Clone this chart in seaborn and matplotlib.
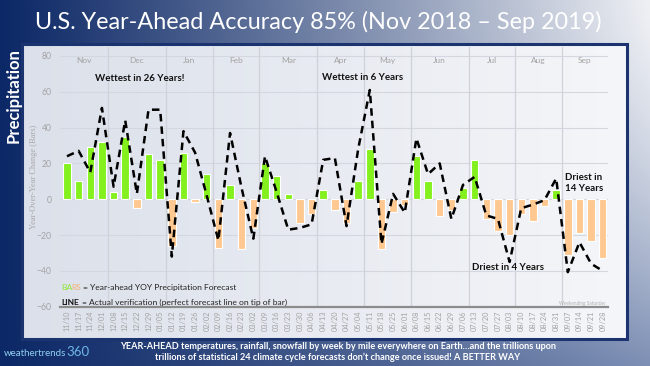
import numpy as np
import pandas as pd
import matplotlib.pyplot as plt
import seaborn as sns
from matplotlib.patches import Rectangle
from matplotlib.colors import to_rgb

# -------------------------------------------------
# Data
# -------------------------------------------------

weeks = ["11/10", "11/17", "11/24", "12/01", "12/08", "12/15", "12/22", "12/29",
         "01/05", "01/12", "01/19", "01/26", "02/02", "02/09", "02/16", "02/23",
         "03/02", "03/09", "03/16", "03/23", "03/30", "04/06", "04/13", "04/20",
         "04/27", "05/04", "05/11", "05/18", "05/25", "06/01", "06/08", "06/15",
         "06/22", "06/29", "07/06", "07/13", "07/20", "07/27", "08/03", "08/10",
         "08/17", "08/24", "08/31", "09/07", "09/14", "09/21", "09/28"]

# year-ahead forecast (bars)
forecast = [20, 10, 29, 32, 4, 35, -5, 25, 22, -26, 26, -1.5, 14, -27, 8, -28,
            -16, 20, 13, 3, -13, -8, 5, -6, -13, 10, 28, -28, -7, -3, 24, 10,
            -9.5, -6, 6, 22, -11, -18, -20, -8, -12, -4, 5, -31, -19, -23.5, -33]

# actual verification (dashed line)
actual = [24, 27, 15, 51, 7, 44, 3, 50, 50, -32, 38, 26, 2, -23, 37, 6,
          -22, 24, 4, -17, -16, -14, 22, 23, -15, 28, 61, -25, 3, -7.5, 34, 14,
          20, -11, 8, 12.5, -9, -11, -35, -5, -3, -0.5, 11.6, -40.7, -24, -36, -40]

months = ["Nov", "Dec", "Jan", "Feb", "Mar", "Apr", "May", "Jun", "Jul", "Aug", "Sep"]
# month grid line drawn right after these weeks
month_breaks = ["12/01", "01/05", "02/02", "03/02", "04/06", "05/04", "06/01",
                "07/06", "08/03", "08/31"]

df = pd.DataFrame({"week": weeks, "forecast": forecast, "actual": actual})
df["sign"] = np.where(df["forecast"] < 0, "neg", "pos")

# -------------------------------------------------
# Figure + backgrounds
# -------------------------------------------------

sns.set_style("white")
plt.rcParams["font.family"] = ["Lato", "DejaVu Sans"]

W, H = 650, 366
fig = plt.figure(figsize=(6.5, 3.66), dpi=100)

# outer gradient frame
xs = np.linspace(0, 1, W)[None, :, None]
ys = np.linspace(0, 1, H)[:, None, None]
left_c = np.array(to_rgb("#0c2866"))
right_top = np.array(to_rgb("#eef0f4"))
right_bot = np.array(to_rgb("#7d8fb4"))
right_c = right_top + (right_bot - right_top) * ys ** 1.5
bg = left_c + (right_c - left_c) * xs ** 1.1
ax_bg = fig.add_axes([0, 0, 1, 1], zorder=-10)
ax_bg.imshow(np.clip(bg, 0, 1), aspect="auto", extent=(0, 1, 0, 1))
ax_bg.axis("off")

# chart panel
px0, px1, py0, py1 = 22, 627, 44, 339
ax_panel = fig.add_axes([px0 / W, 1 - py1 / H, (px1 - px0) / W, (py1 - py0) / H], zorder=-5)
pl = np.array(to_rgb("#dbe0ea"))
pr = np.array(to_rgb("#f5f6f9"))
panel = pl + (pr - pl) * np.linspace(0, 1, 200)[None, :, None]
ax_panel.imshow(panel, aspect="auto", extent=(0, 1, 0, 1))
ax_panel.axis("off")
ax_panel.add_patch(Rectangle((0, 0), 1, 1, transform=ax_panel.transAxes, fill=False,
                             edgecolor="#1b3470", linewidth=2.2, clip_on=False))

# -------------------------------------------------
# Main chart
# -------------------------------------------------

ax = fig.add_axes([60 / W, 1 - 306.7 / H, 548 / W, 259.7 / H])
ax.set_facecolor("none")

sns.barplot(data=df, x="week", y="forecast", hue="sign",
            palette={"pos": "#84f01e", "neg": "#ffc891"}, dodge=False,
            width=0.64, saturation=1, edgecolor="white", linewidth=0.8,
            legend=False, ax=ax, zorder=3)

sns.lineplot(x=np.arange(len(weeks)), y=df["actual"], ax=ax, color="black",
             linewidth=1.8, linestyle=(0, (3, 2)), zorder=4)

n = len(weeks)
x_left, x_right = -0.6, n - 0.55
ax.set_xlim(x_left, x_right)
ax.set_ylim(-60, 85)
ax.set_yticks(range(-60, 81, 20))
ax.yaxis.grid(True, color="#d3d7df", linewidth=0.8)
ax.set_axisbelow(True)

# month separators + labels
bounds = [x_left] + [weeks.index(w) + 0.5 for w in month_breaks] + [x_right]
for b in bounds[1:-1]:
    ax.axvline(b, color="#cfd2d9", linewidth=0.9, zorder=1)
for i, m in enumerate(months):
    ax.text((bounds[i] + bounds[i + 1]) / 2, 77.5, m, ha="center", va="center",
            fontsize=6, color="#a3a3a3")

ax.set_xticks(range(n))
ax.set_xticklabels(weeks, rotation=90, fontsize=5.3, color="#a3a3a3")
ax.tick_params(axis="both", length=0)
ax.tick_params(axis="x", pad=3)
ax.tick_params(axis="y", pad=6, labelsize=6.2, labelcolor="#a3a3a3")
ax.set_xlabel("")
ax.set_ylabel("Year-Over-Year Change (Bars)", fontsize=6, color="#a8a8a8",
              family="Liberation Serif")
ax.yaxis.set_label_coords(-0.04, 0.5)

sns.despine(ax=ax, left=True, top=True, right=True)
ax.spines["bottom"].set_color("#8c8c8c")
ax.spines["bottom"].set_linewidth(1.6)

# annotations
ax.text(6.2, 67.5, "Wettest in 26 Years!", ha="center", va="center",
        fontsize=7, weight="bold", color="#111111")
ax.text(25.4, 68, "Wettest in 6 Years", ha="center", va="center",
        fontsize=7, weight="bold", color="#111111")
ax.text(37.9, -38, "Driest in 4 Years", ha="center", va="center",
        fontsize=7, weight="bold", color="#111111")
ax.text(42.8, 9, "Driest in\n14 Years", ha="left", va="center",
        fontsize=7, weight="bold", color="#111111", linespacing=1.25)
ax.text(46.2, -58.3, "Weekending Saturday", ha="right", va="center",
        fontsize=3.4, color="#b0b0b0")

# legend text
leg_fs = 6.1
t1 = ax.text(-0.45, -51.5, "BA", fontsize=leg_fs, color="#8fe63c", va="bottom")
t2 = ax.annotate("RS", xy=(1, 0), xycoords=t1, xytext=(-1.6, 0),
                 textcoords="offset points", va="bottom", fontsize=leg_fs,
                 color="#f7b16e")
ax.annotate("= Year-ahead YOY Precipitation Forecast", xy=(1, 0), xycoords=t2,
            xytext=(2, 0), textcoords="offset points",
            va="bottom", fontsize=leg_fs, color="#222222")
t4 = ax.text(-0.45, -59.5, "LINE", fontsize=leg_fs, color="#111111", weight="bold", va="bottom")
ax.annotate("= Actual verification (perfect forecast line on tip of bar)", xy=(1, 0),
            xycoords=t4, xytext=(2, 0), textcoords="offset points",
            va="bottom", fontsize=leg_fs, color="#222222")

# -------------------------------------------------
# Frame texts
# -------------------------------------------------

fig.text(0.49, 1 - 22 / H, "U.S. Year-Ahead Accuracy 85% (Nov 2018 \u2013 Sep 2019)",
         ha="center", va="center", fontsize=16.8, color="white")
fig.text(14 / W, 1 - 96 / H, "Precipitation", rotation=90, ha="center", va="center",
         fontsize=12, weight="bold", color="white")
fig.text(338 / W, 1 - 346.5 / H,
         "YEAR-AHEAD temperatures, rainfall, snowfall by week by mile everywhere on Earth\u2026and the trillions upon",
         ha="center", va="center", fontsize=6.6, weight="bold", color="white")
fig.text(338 / W, 1 - 357.5 / H,
         "trillions of statistical 24 climate cycle forecasts don\u2019t change once issued! A BETTER WAY",
         ha="center", va="center", fontsize=6.6, weight="bold", color="white")
fig.text(4 / W, 1 - 353 / H, "weathertrends", ha="left", va="center",
         fontsize=7, color="#8fd0f2")
fig.text(66 / W, 1 - 352 / H, "360", ha="left", va="center",
         fontsize=9.5, color="#6fb6e8")

plt.savefig("out.png", dpi=100)
plt.close()
